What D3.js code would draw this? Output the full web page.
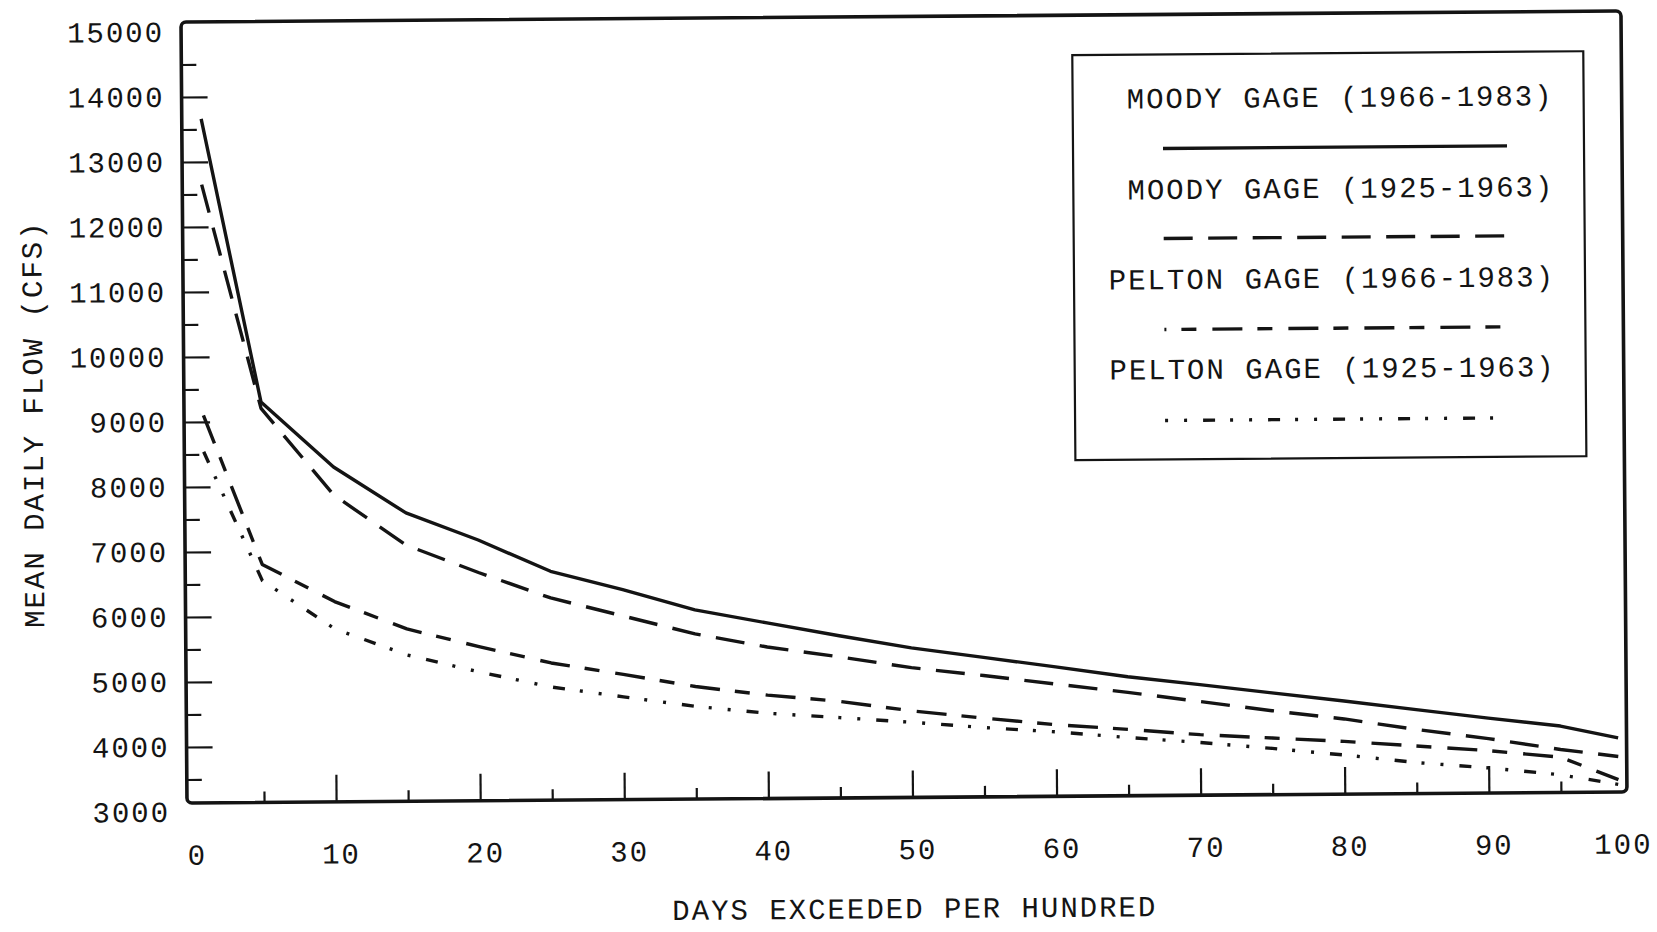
<!DOCTYPE html>
<html>
<head>
<meta charset="utf-8">
<script src="https://cdn.jsdelivr.net/npm/d3@7"></script>
<style>
  html, body { margin: 0; padding: 0; background: #ffffff; }
  svg { display: block; }
  text { font-family: "Liberation Mono", "Courier New", monospace; fill: #141414; }
</style>
</head>
<body>
<svg id="chart" width="1657" height="932"></svg>
<script>
// ---------------- data ----------------
const pctExceeded = [1, 5, 10, 15, 20, 25, 30, 35, 40, 45, 50, 55, 60, 65, 70, 75, 80, 85, 90, 95, 99];
const moody1966  = [13660, 9300, 8290, 7575, 7150, 6660, 6370, 6050, 5840, 5635, 5440, 5285, 5130, 4970, 4840, 4705, 4570, 4430, 4290, 4160, 3970];
const moody1925  = [12650, 9200, 7860, 7080, 6650, 6250, 5965, 5680, 5470, 5310, 5135, 5005, 4865, 4730, 4580, 4430, 4295, 4125, 3975, 3800, 3685];
const pelton1966 = [9100, 6800, 6220, 5790, 5510, 5250, 5065, 4870, 4730, 4625, 4470, 4350, 4240, 4160, 4070, 4010, 3950, 3870, 3790, 3680, 3330];
const pelton1925 = [8540, 6550, 5800, 5390, 5120, 4880, 4720, 4565, 4450, 4375, 4295, 4205, 4130, 4035, 3950, 3850, 3740, 3615, 3525, 3410, 3255];

const seriesNames = ["MOODY GAGE (1966-1983)", "MOODY GAGE (1925-1963)", "PELTON GAGE (1966-1983)", "PELTON GAGE (1925-1963)"];
const seriesValues = [moody1966, moody1925, pelton1966, pelton1925];

const xTickLabels = [0, 10, 20, 30, 40, 50, 60, 70, 80, 90, 100];
const xMinorTicks = [5, 15, 25, 35, 45, 55, 65, 75, 85, 95];
const xMajorTicks = [10, 20, 30, 40, 50, 60, 70, 80, 90];
const yTickLabels = [3000, 4000, 5000, 6000, 7000, 8000, 9000, 10000, 11000, 12000, 13000, 14000, 15000];
const yMajorTicks = [4000, 5000, 6000, 7000, 8000, 9000, 10000, 11000, 12000, 13000, 14000];
const yMinorTicks = [3500, 4500, 5500, 6500, 7500, 8500, 9500, 10500, 11500, 12500, 13500, 14500];

const xTitle = "DAYS EXCEEDED PER HUNDRED";
const yTitle = "MEAN DAILY FLOW (CFS)";

// ---------------- layout ----------------
const W = 1657, H = 932;
const frame = { left: 187, right: 1627, top: 22, bottom: 803 };
const x = d3.scaleLinear().domain([0, 100]).range([192, 1633]);
const y = d3.scaleLinear().domain([3000, 15000]).range([812, 32]);

const styles = [
  { dash: null, legendOffset: 0 },
  { dash: "29,15.5", legendOffset: 0 },
  { dash: "30,15,15,16", legendOffset: 28 },
  { dash: "12,15,3,16,3,16", legendOffset: 27 }
];
const ink = "#141414";
const lineW = 3.4;
const fontSize = 29;
const letterSp = 2;

const svg = d3.select("#chart");
svg.append("rect").attr("width", W).attr("height", H).attr("fill", "#fff");

// whole page is very slightly skewed, like the scanned original
const g = svg.append("g").attr("transform", `rotate(-0.44 ${frame.left} ${frame.bottom})`);

// frame
g.append("rect")
  .attr("x", frame.left).attr("y", frame.top)
  .attr("width", frame.right - frame.left).attr("height", frame.bottom - frame.top)
  .attr("rx", 5).attr("ry", 5)
  .attr("fill", "none").attr("stroke", ink).attr("stroke-width", 3.6);

// y ticks (drawn inward from the left frame)
const yAxis = d3.axisRight(y).tickValues(yMajorTicks).tickSize(26).tickFormat("");
const yAxisMinor = d3.axisRight(y).tickValues(yMinorTicks).tickSize(15).tickFormat("");
[yAxis, yAxisMinor].forEach(ax => {
  const a = g.append("g").attr("transform", `translate(${frame.left},0)`).call(ax);
  a.select(".domain").remove();
  a.selectAll(".tick line").attr("stroke", ink).attr("stroke-width", 2.2);
});

// x ticks (drawn upward from the bottom frame)
const xAxis = d3.axisTop(x).tickValues(xMajorTicks).tickSize(27).tickFormat("");
const xAxisMinor = d3.axisTop(x).tickValues(xMinorTicks).tickSize(11).tickFormat("");
[xAxis, xAxisMinor].forEach(ax => {
  const a = g.append("g").attr("transform", `translate(0,${frame.bottom})`).call(ax);
  a.select(".domain").remove();
  a.selectAll(".tick line").attr("stroke", ink).attr("stroke-width", 2.2);
});

// y tick labels
g.append("g").selectAll("text").data(yTickLabels).join("text")
  .attr("x", 170).attr("y", d => y(d) + 2)
  .attr("text-anchor", "end").attr("dominant-baseline", "middle")
  .attr("font-size", fontSize).attr("letter-spacing", letterSp)
  .text(d => d);

// x tick labels (kept inside the page at the right edge)
g.append("g").selectAll("text").data(xTickLabels).join("text")
  .attr("x", d => Math.min(x(d) + 5, W - 34)).attr("y", 857)
  .attr("text-anchor", "middle").attr("dominant-baseline", "middle")
  .attr("font-size", fontSize).attr("letter-spacing", letterSp)
  .text(d => d);

// axis titles
g.append("text")
  .attr("x", 914).attr("y", 916)
  .attr("text-anchor", "middle").attr("dominant-baseline", "middle")
  .attr("font-size", fontSize).attr("letter-spacing", letterSp)
  .text(xTitle);
g.append("text")
  .attr("transform", "translate(38,423) rotate(-90)")
  .attr("text-anchor", "middle").attr("dominant-baseline", "middle")
  .attr("font-size", fontSize).attr("letter-spacing", letterSp)
  .text(yTitle);

// curves
const line = d3.line().x(d => x(d[0])).y(d => y(d[1]));
seriesValues.forEach((vals, i) => {
  const pts = pctExceeded.map((p, k) => [p, vals[k]]);
  g.append("path").datum(pts)
    .attr("d", line)
    .attr("fill", "none").attr("stroke", ink).attr("stroke-width", lineW)
    .attr("stroke-linejoin", "round")
    .attr("stroke-dasharray", styles[i].dash);
});

// legend
const legend = { left: 1078, right: 1589, top: 62, bottom: 467 };
g.append("rect")
  .attr("x", legend.left).attr("y", legend.top)
  .attr("width", legend.right - legend.left).attr("height", legend.bottom - legend.top)
  .attr("fill", "#fff").attr("stroke", ink).attr("stroke-width", 2.2);

const legendTextY = [108, 199, 289, 379];
const legendLineY = [156, 246, 337, 428];
seriesNames.forEach((name, i) => {
  g.append("text")
    .attr("x", 1559).attr("y", legendTextY[i])
    .attr("text-anchor", "end").attr("dominant-baseline", "middle")
    .attr("font-size", fontSize).attr("letter-spacing", letterSp)
    .text(name);
  g.append("line")
    .attr("x1", 1168).attr("x2", 1512)
    .attr("y1", legendLineY[i]).attr("y2", legendLineY[i])
    .attr("stroke", ink).attr("stroke-width", lineW)
    .attr("stroke-dasharray", styles[i].dash)
    .attr("stroke-dashoffset", styles[i].legendOffset);
});
</script>
</body>
</html>
